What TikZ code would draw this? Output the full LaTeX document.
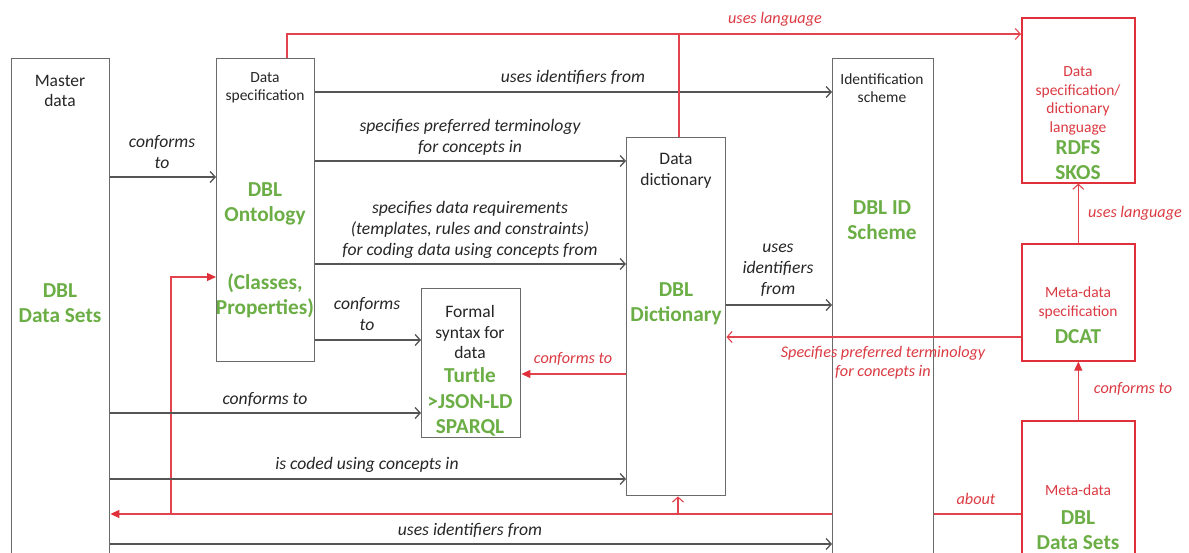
\documentclass[tikz,border=0pt]{standalone}
\usepackage{fontspec}
\setmainfont{Carlito}
\usetikzlibrary{arrows.meta}
\definecolor{gline}{HTML}{555555}
\definecolor{gbox}{HTML}{6A6A6A}
\definecolor{rboxc}{HTML}{E0303A}
\definecolor{rline}{HTML}{E2434C}
\definecolor{rtext}{HTML}{DB3A42}
\definecolor{dgreen}{HTML}{6BAE45}
\begin{document}
\begin{tikzpicture}[x=1pt,y=-1pt,
  box/.style={draw=gbox, line width=1.4pt, fill=white, inner sep=0pt, anchor=north west},
  rbox/.style={draw=rboxc, line width=1.6pt, fill=white, inner sep=0pt, anchor=north west},
  conn/.style={draw=gline, line width=1.3pt, -{Straight Barb[length=5pt,width=11pt]}},
  ropen/.style={draw=rline, line width=1.1pt, -{Straight Barb[length=5pt,width=11pt]}},
  rfill/.style={draw=rline, line width=1.1pt, -{Triangle[length=9pt,width=8pt,color=rboxc,fill=rboxc]}},
  rplain/.style={draw=rline, line width=1.1pt},
  lbl/.style={font=\itshape\fontsize{17.6}{21}\selectfont, text=black!85, align=center, inner sep=0pt},
  rlbl/.style={font=\itshape\fontsize{16.2}{19}\selectfont, text=rtext, align=center, inner sep=0pt},
  ttl/.style={font=\fontsize{17.5}{20.5}\selectfont, text=black!85, align=center, inner sep=0pt},
  sttl/.style={font=\fontsize{15.5}{18}\selectfont, text=black!85, align=center, inner sep=0pt},
  rttl/.style={font=\fontsize{15.5}{18.5}\selectfont, text=rtext, align=center, inner sep=0pt},
  grn/.style={font=\bfseries\fontsize{21.3}{25.5}\selectfont, text=dgreen, align=center, inner sep=0pt}
]
\useasboundingbox (0,0) rectangle (1189,553);
\clip (0,0) rectangle (1189,553);

% boxes drawn before the hidden line
\node[box, minimum width=98pt, minimum height=542pt] (master) at (11,58) {};
\node[box, minimum width=98pt, minimum height=303pt] (dspec) at (216,58) {};
\node[box, minimum width=99pt, minimum height=358pt] (dd) at (626,137) {};
\node[box, minimum width=99pt, minimum height=149pt] (formal) at (421,288) {};
\node[rbox, minimum width=113pt, minimum height=165pt] (rdfs) at (1021,17) {};
\node[rbox, minimum width=113pt, minimum height=117pt] (dcat) at (1021,243) {};
\node[rbox, minimum width=113pt, minimum height=180pt] (meta) at (1021,420) {};

% "about" line (passes behind the identification scheme)
\coordinate (j1) at (171,514);
\coordinate (j2) at (678,514);
\draw[rfill] (meta.west |- 0,514) -- (master.east |- 0,514);
\draw[rfill] (j1) |- (dspec.west |- 0,277);
\draw[ropen] (j2) -- (j2 |- dd.south);

\node[box, minimum width=101pt, minimum height=542pt] (idb) at (832,58) {};

% black connectors
\draw[conn] (master.east |- 0,177) -- (dspec.west |- 0,177);
\draw[conn] (dspec.east |- 0,92) -- (idb.west |- 0,92);
\draw[conn] (dspec.east |- 0,161) -- (dd.west |- 0,161);
\draw[conn] (dspec.east |- 0,264) -- (dd.west |- 0,264);
\draw[conn] (dspec.east |- 0,340) -- (formal.west |- 0,340);
\draw[conn] (master.east |- 0,413) -- (formal.west |- 0,413);
\draw[conn] (master.east |- 0,479) -- (dd.west |- 0,479);
\draw[conn] (master.east |- 0,544) -- (idb.west |- 0,544);
\draw[conn] (dd.east |- 0,305) -- (idb.west |- 0,305);

% red connectors
\coordinate (t1) at (287,34);
\coordinate (t2) at (679,34);
\draw[ropen] (t1 |- dspec.north) -- (t1) -- (rdfs.west |- t1);
\draw[rplain] (t2 |- dd.north) -- (t2);
\draw[ropen] (dcat.north) -- (rdfs.south);
\draw[rfill] (meta.north) -- (dcat.south);
\draw[ropen] (dcat.west |- 0,337) -- (dd.east |- 0,337);
\draw[rfill] (dd.west |- 0,374) -- (formal.east |- 0,374);

% box texts
\node[ttl] (masterT) at (60,91) {Master\\data};
\node[grn] (masterG) at (60,303) {DBL\\Data Sets};
\node[sttl] (dspecT) at (265,88) {Data\\specification};
\node[grn] (dspecG1) at (265,204) {DBL\\Ontology};
\node[grn] (dspecG2) at (265,296) {(Classes,\\Properties)};
\node[ttl] (ddT) at (676,171) {Data\\dictionary};
\node[grn] (ddG) at (676,304) {DBL\\Dictionary};
\node[sttl] (idT) at (882,88) {Identification\\scheme};
\node[grn] (idG) at (882,220) {DBL ID\\Scheme};
\node[ttl] (formalT) at (470,332) {Formal\\syntax for\\data};
\node[grn] (formalG) at (470,402) {Turtle\\>JSON-LD\\SPARQL};
\node[rttl] (rdfsT) at (1078,101) {Data\\specification/\\dictionary\\language};
\node[grn] (rdfsG) at (1078,160) {RDFS\\SKOS};
\node[rttl] (dcatT) at (1078,303) {Meta-data\\specification};
\node[grn] (dcatG) at (1078,337) {DCAT};
\node[rttl] (metaT) at (1078,490) {Meta-data};
\node[grn] (metaG) at (1078,530) {DBL\\Data Sets};

% labels
\node[rlbl] (l1) at (775,19) {uses language};
\node[lbl] (l2) at (573,77) {uses identifiers from};
\node[lbl] (l3) at (470,137) {specifies preferred terminology\\for concepts in};
\node[lbl] (l4) at (470,230) {specifies data requirements\\(templates, rules and constraints)\\for coding data using concepts from};
\node[lbl] (l5) at (162,152) {conforms\\to};
\node[lbl] (l6) at (367,314) {conforms\\to};
\node[lbl] (l7) at (265,399) {conforms to};
\node[lbl] (l8) at (367,465) {is coded using concepts in};
\node[lbl] (l9) at (470,530) {uses identifiers from};
\node[lbl] (l10) at (778,270) {uses\\identifiers\\from};
\node[rlbl] (l11) at (573,359) {conforms to};
\node[rlbl] (l12) at (883,363) {Specifies preferred terminology\\for concepts in};
\node[rlbl] (l13) at (976,499) {about};
\node[rlbl] (l14) at (1133,389) {conforms to};
\node[rlbl] (l15) at (1135,213) {uses language};
\end{tikzpicture}
\end{document}
